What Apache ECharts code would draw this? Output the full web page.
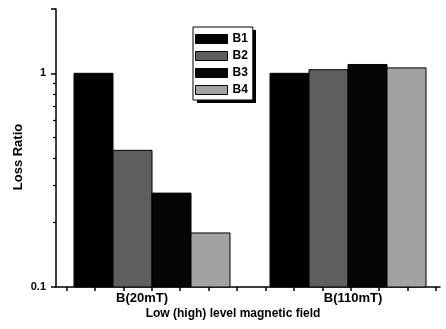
<!DOCTYPE html>
<html>
<head>
<meta charset="utf-8">
<script src="https://cdn.jsdelivr.net/npm/echarts@6/dist/echarts.min.js"></script>
<style>
  html, body { margin: 0; padding: 0; background: #fff; }
  #chart { width: 446px; height: 329px; }
</style>
</head>
<body>
<div id="chart"></div>
<script>
// Field levels along the x axis
const categories = ['B(20mT)', 'B(110mT)'];
// Loss ratio of each sample at the two field levels
const seriesNames = ['B1', 'B2', 'B3', 'B4'];
const b1 = [1.0, 1.0];
const b2 = [0.436, 1.04];
const b3 = [0.275, 1.10];
const b4 = [0.179, 1.06];
// Log axis range and tick values
const yMin = 0.1;
const yMax = 2;
const yMajorTicks = [0.1, 1, 2];
const yMinorTicks = [0.2, 0.3, 0.4, 0.5, 0.6, 0.7, 0.8, 0.9];
const yTickLabels = [0.1, 1];
// Evenly spaced tick marks along the bottom axis
const xTicks = [1, 2, 3, 4, 5, 6, 7, 8, 9, 10, 11, 12, 13, 14];

const FONT = 'Liberation Sans, Arial, sans-serif';
const seriesValues = [b1, b2, b3, b4];
const seriesColors = ['#000000', '#5e5e5e', '#050505', '#a2a2a2'];
const BAR_WIDTH = 39;

const chart = echarts.init(document.getElementById('chart'), null, { renderer: 'canvas' });

// Bars grow up from the bottom of the log axis, side by side within each category
function barRenderer(seriesIdx) {
  return function (params, api) {
    const cat = api.value(0);
    const val = api.value(1);
    const top = api.coord([cat, val]);
    const base = api.coord([cat, yMin]);
    const offset = (seriesIdx - (seriesNames.length - 1) / 2) * BAR_WIDTH;
    const rect = echarts.graphic.clipRectByRect({
      x: top[0] + offset - BAR_WIDTH / 2,
      y: top[1],
      width: BAR_WIDTH,
      height: base[1] - top[1]
    }, {
      x: params.coordSys.x,
      y: params.coordSys.y,
      width: params.coordSys.width,
      height: params.coordSys.height
    });
    return rect && {
      type: 'rect',
      shape: rect,
      style: { fill: seriesColors[seriesIdx], stroke: '#000', lineWidth: 1 }
    };
  };
}

const option = {
  animation: false,
  backgroundColor: '#ffffff',
  textStyle: { fontFamily: FONT, color: '#000' },
  grid: [
    // bars
    { left: 54, right: 0, top: 9, bottom: 42 },
    // axis frame
    { left: 56, right: 6, top: 9, bottom: 42 }
  ],
  // drop shadow behind the legend box
  graphic: [{
    type: 'rect',
    left: 197,
    top: 30,
    shape: { width: 59, height: 73 },
    style: { fill: '#000' },
    z: 3,
    silent: true
  }],
  legend: {
    data: seriesNames,
    orient: 'vertical',
    left: 193,
    top: 27,
    z: 5,
    icon: 'rect',
    itemWidth: 32,
    itemHeight: 9,
    itemGap: 5,
    padding: [6, 5, 4, 2],
    backgroundColor: '#ffffff',
    borderColor: '#000',
    borderWidth: 1,
    textStyle: { fontFamily: FONT, fontSize: 12, fontWeight: 'bold', color: '#000' },
    itemStyle: { borderColor: '#000', borderWidth: 1 }
  },
  xAxis: [
    {
      type: 'category',
      gridIndex: 0,
      data: categories,
      axisLine: { show: false },
      axisTick: { show: false },
      axisLabel: {
        margin: 5,
        formatter: (v, i) => i === 0 ? '{a|' + v + '}' : '{b|' + v + '}',
        rich: {
          a: { fontFamily: FONT, fontSize: 13, fontWeight: 'bold', color: '#000', padding: [0, 20, 0, 0] },
          b: { fontFamily: FONT, fontSize: 13, fontWeight: 'bold', color: '#000', padding: [0, 0, 0, 10] }
        }
      }
    },
    {
      type: 'value',
      gridIndex: 1,
      min: 0.63,
      max: 14.14,
      axisLine: { show: true, onZero: false, lineStyle: { color: '#000', width: 1.5 } },
      axisTick: { show: true, inside: false, length: 4, customValues: xTicks, lineStyle: { color: '#000', width: 1.5 } },
      axisLabel: { show: false },
      splitLine: { show: false },
      name: 'Low (high) level magnetic field',
      nameLocation: 'middle',
      nameGap: 21,
      nameMoveOverlap: false,
      nameTextStyle: { fontFamily: FONT, fontSize: 12, fontWeight: 'bold', color: '#000', padding: [0, 30, 0, 0] }
    }
  ],
  yAxis: [
    {
      type: 'log',
      gridIndex: 0,
      min: yMin,
      max: yMax,
      logBase: 10,
      show: false
    },
    {
      type: 'log',
      gridIndex: 1,
      min: yMin,
      max: yMax,
      logBase: 10,
      axisLine: { show: true, onZero: false, lineStyle: { color: '#000', width: 1.5 } },
      axisTick: { show: true, inside: false, length: 5, customValues: yMajorTicks, lineStyle: { color: '#000', width: 1.5 } },
      axisLabel: {
        show: true,
        customValues: yTickLabels,
        margin: 10,
        fontFamily: FONT,
        fontSize: 11,
        fontWeight: 'bold',
        color: '#000',
        formatter: v => String(v)
      },
      splitLine: { show: false },
      name: 'Loss Ratio',
      nameLocation: 'middle',
      nameGap: 31,
      nameMoveOverlap: false,
      nameRotate: 90,
      nameTextStyle: { fontFamily: FONT, fontSize: 13, fontWeight: 'bold', color: '#000', padding: [0, 18, 0, 0] }
    },
    {
      type: 'log',
      gridIndex: 1,
      min: yMin,
      max: yMax,
      logBase: 10,
      position: 'left',
      axisLine: { show: false },
      axisTick: { show: true, inside: false, length: 3, customValues: yMinorTicks, lineStyle: { color: '#000', width: 1.2 } },
      axisLabel: { show: false },
      splitLine: { show: false }
    }
  ],
  series: seriesNames.map((name, i) => ({
    name: name,
    type: 'custom',
    xAxisIndex: 0,
    yAxisIndex: 0,
    renderItem: barRenderer(i),
    encode: { x: 0, y: 1 },
    data: seriesValues[i].map((v, j) => [j, v]),
    itemStyle: { color: seriesColors[i], borderColor: '#000', borderWidth: 1 }
  }))
};

chart.setOption(option);
</script>
</body>
</html>
